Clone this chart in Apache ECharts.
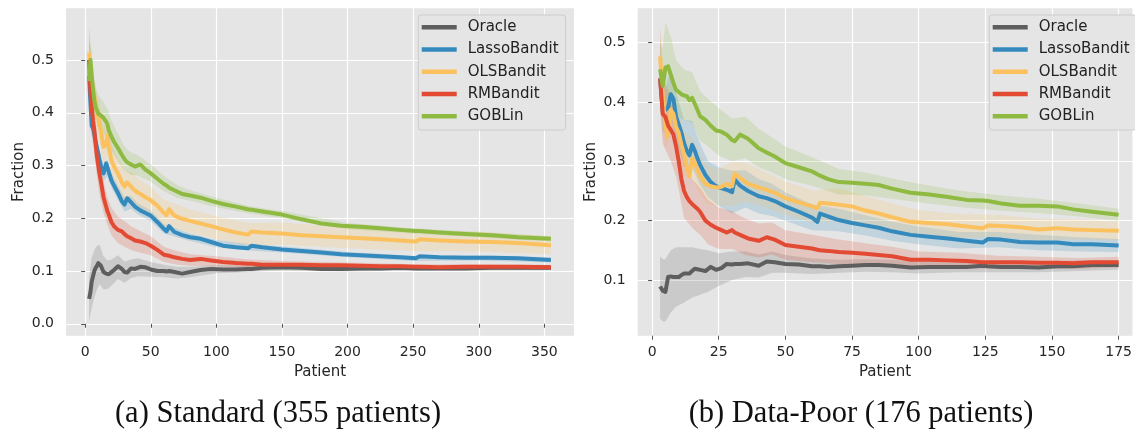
<!DOCTYPE html>
<html><head><meta charset="utf-8">
<script src="https://cdn.jsdelivr.net/npm/echarts@6/dist/echarts.min.js"></script>
<style>html,body{margin:0;padding:0;background:#fff}#c{width:1135px;height:430px}</style>
</head><body><div id="c"></div>
<script>
// ---------------- DATA ----------------
const seriesNames = ['Oracle', 'LassoBandit', 'OLSBandit', 'RMBandit', 'GOBLin'];

// Panel (a) Standard (355 patients)
const xA = [3,4,5,6,7,8,9,10,11,12,14,16,17,18,20,22,25,28,30,32,35,38,42,46,50,55,60,62,64,68,74,80,88,96,105,115,124,127,135,150,165,180,195,210,225,240,252,255,270,290,310,330,355];
const oracleA = [0.047,0.06,0.08,0.09,0.1,0.106,0.11,0.115,0.116,0.11,0.098,0.095,0.094,0.094,0.098,0.102,0.109,0.104,0.098,0.097,0.105,0.104,0.108,0.107,0.103,0.1,0.1,0.099,0.1,0.098,0.095,0.098,0.102,0.104,0.103,0.103,0.104,0.104,0.106,0.107,0.106,0.104,0.104,0.105,0.105,0.106,0.105,0.105,0.105,0.105,0.106,0.106,0.106];
const lassoA = [0.47,0.42,0.375,0.37,0.36,0.345,0.333,0.323,0.31,0.3,0.285,0.304,0.296,0.288,0.272,0.262,0.248,0.232,0.226,0.238,0.23,0.222,0.215,0.21,0.205,0.193,0.18,0.175,0.185,0.174,0.168,0.164,0.161,0.155,0.148,0.145,0.143,0.148,0.145,0.141,0.138,0.135,0.132,0.13,0.128,0.126,0.124,0.128,0.126,0.125,0.125,0.124,0.121];
const olsA = [0.514,0.48,0.46,0.44,0.43,0.415,0.4,0.392,0.38,0.365,0.335,0.34,0.357,0.335,0.31,0.298,0.285,0.268,0.26,0.268,0.26,0.252,0.246,0.24,0.234,0.224,0.21,0.206,0.217,0.205,0.199,0.195,0.19,0.185,0.179,0.173,0.169,0.175,0.173,0.171,0.168,0.166,0.164,0.162,0.16,0.158,0.156,0.16,0.158,0.156,0.155,0.153,0.149];
const rmA = [0.5,0.44,0.41,0.385,0.367,0.34,0.317,0.3,0.283,0.27,0.24,0.222,0.213,0.207,0.193,0.185,0.178,0.175,0.17,0.166,0.162,0.158,0.156,0.153,0.148,0.14,0.131,0.13,0.129,0.126,0.123,0.121,0.123,0.12,0.117,0.115,0.114,0.114,0.112,0.112,0.112,0.111,0.111,0.11,0.109,0.109,0.108,0.108,0.107,0.108,0.108,0.108,0.107];
const goblinA = [0.46,0.5,0.47,0.445,0.423,0.41,0.405,0.398,0.395,0.395,0.39,0.383,0.378,0.367,0.355,0.345,0.333,0.32,0.312,0.306,0.302,0.298,0.302,0.292,0.285,0.275,0.265,0.262,0.258,0.253,0.246,0.243,0.239,0.233,0.227,0.222,0.217,0.216,0.213,0.207,0.198,0.19,0.186,0.184,0.181,0.178,0.176,0.176,0.173,0.17,0.168,0.164,0.161];

// confidence bands, panel (a)
const bandXA = [3,5,7,9,11,14,17,20,25,30,35,40,50,60,70,80,100,125,150,200,250,300,355];
const oracleLoA = [0.005,0.03,0.05,0.065,0.075,0.065,0.066,0.072,0.085,0.078,0.087,0.09,0.089,0.088,0.086,0.088,0.096,0.098,0.101,0.099,0.101,0.102,0.102];
const oracleHiA = [0.09,0.125,0.14,0.148,0.15,0.128,0.12,0.122,0.13,0.118,0.122,0.124,0.117,0.112,0.108,0.108,0.111,0.11,0.113,0.11,0.109,0.11,0.11];
const lassoLoA = [0.45,0.355,0.34,0.315,0.293,0.27,0.28,0.258,0.235,0.213,0.218,0.207,0.195,0.171,0.164,0.157,0.145,0.139,0.135,0.126,0.119,0.12,0.116];
const lassoHiA = [0.49,0.395,0.38,0.35,0.327,0.3,0.312,0.286,0.262,0.239,0.242,0.229,0.215,0.189,0.18,0.171,0.159,0.151,0.147,0.136,0.129,0.13,0.126];
const olsLoA = [0.47,0.42,0.395,0.365,0.345,0.3,0.32,0.28,0.255,0.23,0.232,0.222,0.208,0.185,0.18,0.173,0.16,0.149,0.15,0.143,0.138,0.137,0.132];
const olsHiA = [0.565,0.5,0.465,0.435,0.415,0.37,0.39,0.34,0.315,0.29,0.288,0.276,0.26,0.235,0.226,0.217,0.204,0.191,0.192,0.183,0.176,0.175,0.166];
const rmLoA = [0.44,0.36,0.32,0.28,0.245,0.21,0.187,0.168,0.153,0.146,0.14,0.136,0.13,0.117,0.112,0.11,0.109,0.106,0.105,0.104,0.103,0.103,0.102];
const rmHiA = [0.565,0.46,0.41,0.36,0.32,0.27,0.24,0.22,0.203,0.195,0.185,0.178,0.166,0.146,0.138,0.132,0.128,0.122,0.119,0.116,0.113,0.113,0.112];
const goblinLoA = [0.42,0.44,0.395,0.375,0.365,0.36,0.35,0.328,0.308,0.29,0.282,0.281,0.269,0.251,0.239,0.233,0.221,0.209,0.2,0.179,0.171,0.164,0.156];
const goblinHiA = [0.54,0.52,0.46,0.44,0.43,0.42,0.408,0.385,0.36,0.336,0.324,0.32,0.302,0.28,0.263,0.253,0.239,0.223,0.214,0.191,0.181,0.174,0.166];

// Panel (b) Data-Poor (176 patients)
const xB = [3,4,5,6,7,8,9,10,11,12,13,14,15,16,17,18,20,22,24,26,28,30,31,33,36,40,43,46,50,55,60,62,63,66,70,75,80,85,90,97,104,111,118,124,126,131,138,145,152,158,165,175];
const oracleB = [0.089,0.082,0.08,0.105,0.106,0.105,0.105,0.105,0.108,0.111,0.111,0.111,0.115,0.119,0.118,0.117,0.115,0.122,0.117,0.12,0.127,0.126,0.127,0.127,0.128,0.124,0.131,0.13,0.127,0.126,0.123,0.123,0.123,0.122,0.123,0.124,0.125,0.125,0.124,0.121,0.122,0.122,0.122,0.124,0.123,0.122,0.122,0.121,0.123,0.123,0.125,0.125];
const lassoB = [0.44,0.384,0.387,0.39,0.413,0.405,0.375,0.362,0.348,0.33,0.318,0.31,0.328,0.318,0.305,0.294,0.277,0.265,0.258,0.255,0.252,0.248,0.269,0.259,0.25,0.241,0.238,0.233,0.224,0.215,0.205,0.198,0.212,0.207,0.201,0.196,0.192,0.188,0.182,0.176,0.173,0.17,0.166,0.163,0.169,0.168,0.164,0.163,0.163,0.16,0.16,0.158];
const olsB = [0.477,0.41,0.359,0.342,0.387,0.38,0.358,0.348,0.328,0.312,0.292,0.275,0.305,0.298,0.285,0.276,0.262,0.258,0.256,0.257,0.262,0.258,0.28,0.272,0.262,0.256,0.252,0.247,0.238,0.231,0.224,0.221,0.23,0.229,0.227,0.224,0.217,0.212,0.206,0.198,0.196,0.194,0.19,0.187,0.192,0.191,0.189,0.185,0.187,0.185,0.184,0.183];
const rmB = [0.44,0.38,0.375,0.36,0.353,0.345,0.325,0.3,0.27,0.25,0.24,0.233,0.228,0.224,0.22,0.215,0.2,0.193,0.188,0.184,0.18,0.184,0.18,0.176,0.17,0.166,0.172,0.168,0.159,0.156,0.153,0.151,0.15,0.149,0.147,0.146,0.144,0.142,0.14,0.134,0.134,0.133,0.132,0.13,0.13,0.13,0.13,0.129,0.129,0.128,0.13,0.13];
const goblinB = [0.455,0.427,0.458,0.46,0.446,0.432,0.42,0.417,0.413,0.411,0.41,0.403,0.407,0.397,0.387,0.376,0.37,0.36,0.352,0.35,0.345,0.336,0.334,0.345,0.338,0.322,0.315,0.308,0.297,0.29,0.283,0.278,0.276,0.27,0.265,0.264,0.262,0.26,0.254,0.247,0.244,0.24,0.235,0.234,0.233,0.229,0.225,0.225,0.224,0.219,0.215,0.21];

// confidence bands, panel (b)
const bandXB = [3,4,5,7,9,12,15,18,21,25,30,35,40,45,50,60,70,80,90,100,115,130,145,160,175];
const oracleLoB = [0.035,0.03,0.03,0.045,0.055,0.062,0.07,0.075,0.08,0.09,0.1,0.105,0.104,0.112,0.112,0.11,0.112,0.114,0.113,0.111,0.113,0.113,0.113,0.115,0.117];
const oracleHiB = [0.14,0.135,0.135,0.15,0.155,0.155,0.155,0.152,0.15,0.145,0.148,0.148,0.143,0.148,0.142,0.136,0.134,0.135,0.134,0.131,0.131,0.131,0.13,0.133,0.133];
const lassoLoB = [0.41,0.35,0.35,0.37,0.335,0.29,0.29,0.26,0.24,0.225,0.212,0.222,0.212,0.208,0.2,0.184,0.182,0.175,0.166,0.16,0.153,0.155,0.15,0.148,0.147];
const lassoHiB = [0.47,0.42,0.425,0.455,0.415,0.37,0.368,0.33,0.3,0.29,0.284,0.285,0.27,0.262,0.248,0.227,0.22,0.209,0.198,0.19,0.181,0.181,0.176,0.172,0.169];
const olsLoB = [0.43,0.35,0.32,0.345,0.32,0.275,0.27,0.245,0.228,0.225,0.225,0.232,0.226,0.219,0.21,0.197,0.2,0.192,0.183,0.176,0.171,0.172,0.167,0.168,0.167];
const olsHiB = [0.525,0.46,0.4,0.43,0.395,0.35,0.34,0.31,0.292,0.288,0.298,0.298,0.287,0.277,0.266,0.251,0.254,0.242,0.229,0.218,0.211,0.21,0.203,0.202,0.199];
const rmLoB = [0.39,0.33,0.32,0.3,0.275,0.205,0.188,0.176,0.16,0.152,0.152,0.142,0.138,0.143,0.134,0.13,0.127,0.126,0.124,0.12,0.12,0.119,0.119,0.119,0.121];
const rmHiB = [0.525,0.44,0.43,0.41,0.375,0.3,0.27,0.255,0.235,0.222,0.216,0.203,0.195,0.197,0.184,0.176,0.168,0.162,0.156,0.148,0.146,0.141,0.139,0.137,0.139];
const goblinLoB = [0.39,0.37,0.39,0.39,0.375,0.37,0.365,0.335,0.325,0.31,0.3,0.305,0.29,0.281,0.27,0.259,0.244,0.243,0.237,0.231,0.223,0.217,0.213,0.207,0.2];
const goblinHiB = [0.5,0.49,0.535,0.51,0.47,0.455,0.45,0.418,0.405,0.39,0.372,0.375,0.355,0.34,0.325,0.307,0.287,0.281,0.271,0.262,0.251,0.243,0.237,0.229,0.22];

// tick labels
const xTicksA = [0,50,100,150,200,250,300,350];
const xTicksB = [0,25,50,75,100,125,150,175];
const yTicksA = [0.0,0.1,0.2,0.3,0.4,0.5];
const yTicksB = [0.1,0.2,0.3,0.4,0.5];
const captionA = '(a) Standard (355 patients)';
const captionB = '(b) Data-Poor (176 patients)';

// ---------------- STYLE / BUILD ----------------
const colors = ['#5e5e5e', '#348ABD', '#FBC15E', '#E24A33', '#8EBA42'];
const FONT = 'DejaVu Sans';
const TXT = '#262626';

const panelA = { x: xA, lines: [oracleA, lassoA, olsA, rmA, goblinA], bx: bandXA,
  lo: [oracleLoA, lassoLoA, olsLoA, rmLoA, goblinLoA], hi: [oracleHiA, lassoHiA, olsHiA, rmHiA, goblinHiA] };
const panelB = { x: xB, lines: [oracleB, lassoB, olsB, rmB, goblinB], bx: bandXB,
  lo: [oracleLoB, lassoLoB, olsLoB, rmLoB, goblinLoB], hi: [oracleHiB, lassoHiB, olsHiB, rmHiB, goblinHiB] };

function pairs(xs, ys) { return xs.map((x, i) => [x, ys[i]]); }

function bandSeries(p, idx, k) {
  const data = p.bx.map((x, i) => [x, p.lo[k][i], p.hi[k][i]]);
  return {
    type: 'custom', name: '_band' + k, xAxisIndex: idx, yAxisIndex: idx, silent: true, z: 1, clip: true,
    data,
    encode: { x: 0, y: [1, 2] },
    renderItem: function (params, api) {
      if (params.dataIndex !== 0) return null;
      const upper = data.map(d => api.coord([d[0], d[2]]));
      const lower = data.map(d => api.coord([d[0], d[1]])).reverse();
      return { type: 'polygon', shape: { points: upper.concat(lower) },
        style: { fill: colors[k], opacity: 0.2 } };
    }
  };
}

function makeSeries(p, idx) {
  const out = [];
  for (let k = 0; k < 5; k++) out.push(bandSeries(p, idx, k));
  for (let k = 0; k < 5; k++) {
    out.push({ type: 'line', name: seriesNames[k], xAxisIndex: idx, yAxisIndex: idx, symbol: 'none',
      color: colors[k], lineStyle: { width: 4, color: colors[k], join: 'round' }, data: pairs(p.x, p.lines[k]), z: 3 });
  }
  return out;
}

function xAxis(idx, min, max, ticks) {
  return { type: 'value', gridIndex: idx, min, max, name: 'Patient', nameLocation: 'middle', nameGap: 27,
    nameTextStyle: { fontFamily: FONT, fontSize: 15, color: TXT },
    axisLine: { show: false },
    axisTick: { show: true, length: 4, customValues: ticks, lineStyle: { color: '#555555', width: 1 } },
    axisLabel: { customValues: ticks, margin: 10, fontFamily: FONT, fontSize: 14, color: TXT },
    splitLine: { show: true, lineStyle: { color: '#ffffff', width: 1.2 } } };
}
function yAxis(idx, min, max, ticks) {
  return { type: 'value', gridIndex: idx, min, max, name: 'Fraction', nameLocation: 'middle', nameGap: 39,
    nameTextStyle: { fontFamily: FONT, fontSize: 15, color: TXT },
    axisLine: { show: false },
    axisTick: { show: true, length: 4, customValues: ticks, lineStyle: { color: '#555555', width: 1 } },
    axisLabel: { customValues: ticks, margin: 12, fontFamily: FONT, fontSize: 14, color: TXT, formatter: v => v.toFixed(1) },
    splitLine: { show: true, lineStyle: { color: '#ffffff', width: 1.2 } } };
}
function legend(left) {
  return { data: seriesNames, orient: 'vertical', left, top: 15, icon: 'rect', itemWidth: 35, itemHeight: 4.5,
    itemGap: 6.25, padding: [4.3, 7, 5.7, 3.4], backgroundColor: '#e5e5e5', borderColor: '#cccccc', borderWidth: 1, borderRadius: 3,
    selectedMode: false,
    textStyle: { fontFamily: FONT, fontSize: 15, color: '#222222', lineHeight: 16, padding: [0, 0, 0, 6] } };
}

const chart = echarts.init(document.getElementById('c'), null, { renderer: 'canvas' });
chart.setOption({
  animation: false,
  backgroundColor: '#ffffff',
  grid: [
    { left: 66, top: 8.3, width: 508, height: 327.4, show: true, backgroundColor: '#e5e5e5', borderWidth: 0 },
    { left: 637.7, top: 8.3, right: 0, height: 327.4, show: true, backgroundColor: '#e5e5e5', borderWidth: 0 }
  ],
  xAxis: [xAxis(0, -14.6, 372.6, xTicksA), xAxis(1, -5.4, 180.2, xTicksB)],
  yAxis: [yAxis(0, -0.0226, 0.598, yTicksA), yAxis(1, 0.006, 0.558, yTicksB)],
  legend: [legend(418.3), legend(989.3)],
  series: makeSeries(panelA, 0).concat(makeSeries(panelB, 1)),
  graphic: [
    { type: 'text', x: 278, y: 414, style: { text: captionA, fontFamily: 'Liberation Serif', fontSize: 30.5, fill: '#111111', align: 'center', verticalAlign: 'middle' } },
    { type: 'text', x: 861, y: 414, style: { text: captionB, fontFamily: 'Liberation Serif', fontSize: 30.5, fill: '#111111', align: 'center', verticalAlign: 'middle' } }
  ]
});
</script></body></html>
